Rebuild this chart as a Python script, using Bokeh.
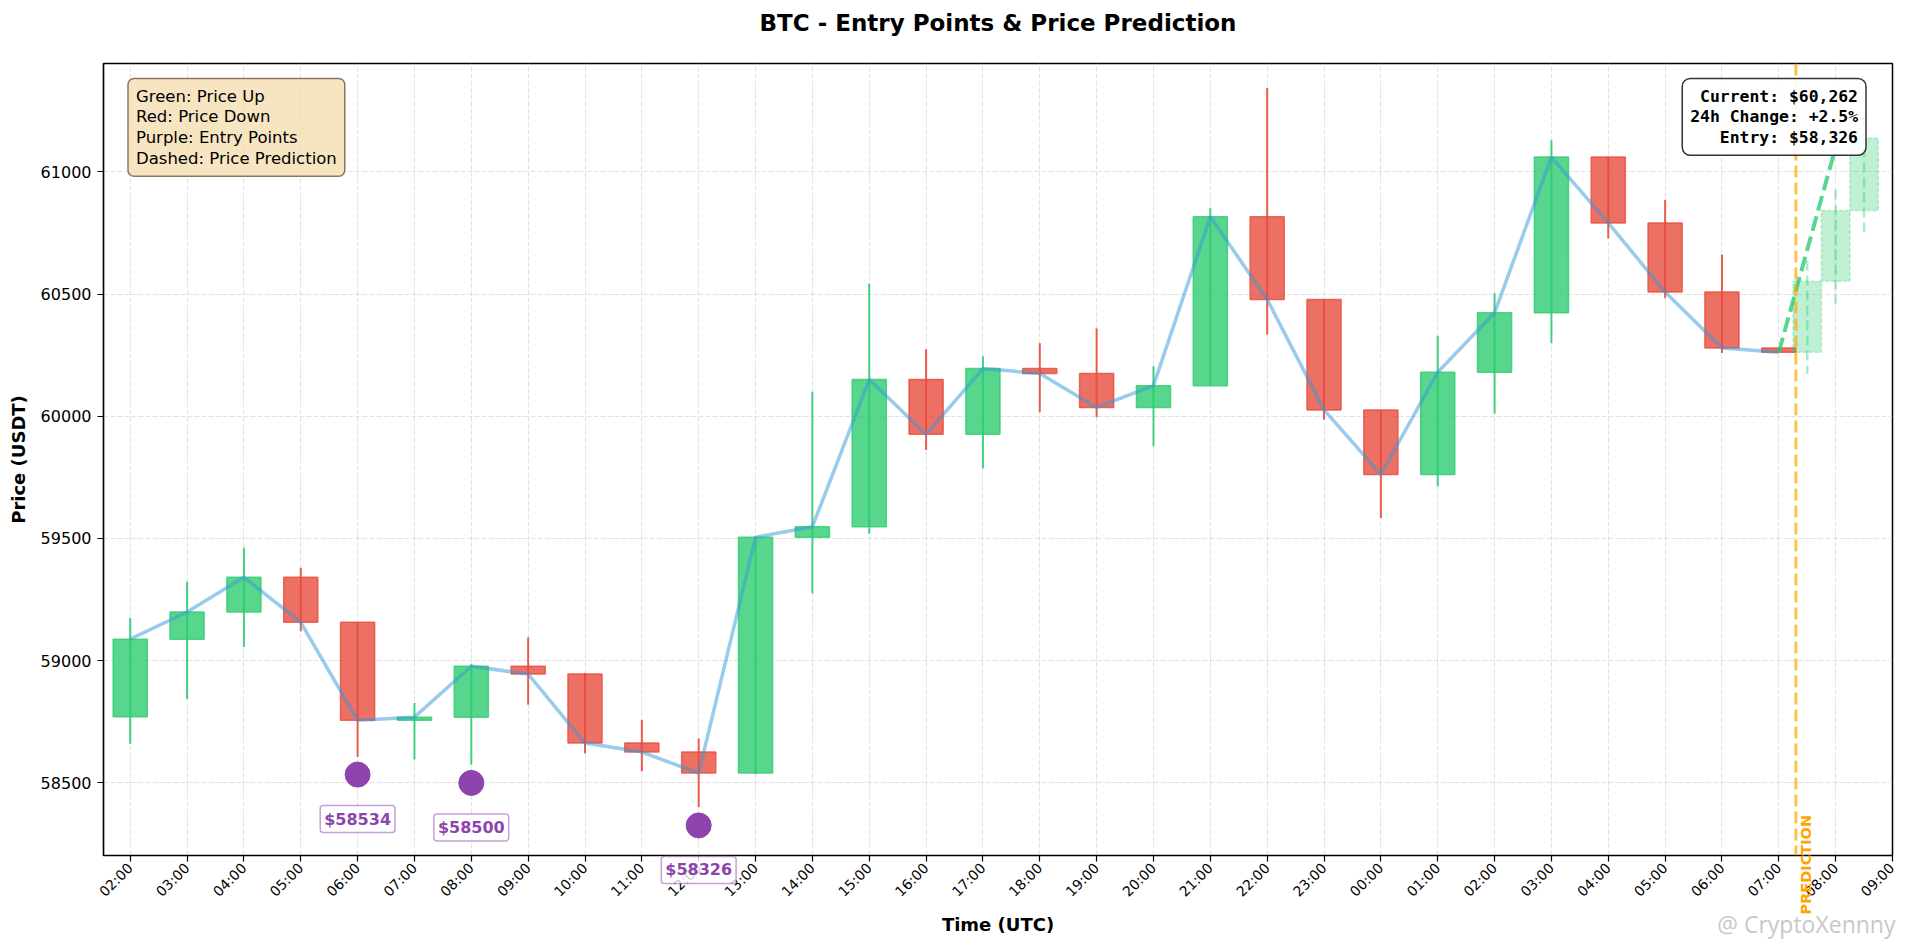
import math
from bokeh.plotting import figure
from bokeh.models import Range1d, FixedTicker, Label, Span
from bokeh.embed import file_html
from bokeh.resources import INLINE
from bokeh.core.properties import value

# ---------------- data ----------------
title_text = "BTC - Entry Points & Price Prediction"
tick_labels = ["02:00", "03:00", "04:00", "05:00", "06:00", "07:00", "08:00", "09:00",
               "10:00", "11:00", "12:00", "13:00", "14:00", "15:00", "16:00", "17:00",
               "18:00", "19:00", "20:00", "21:00", "22:00", "23:00", "00:00", "01:00",
               "02:00", "03:00", "04:00", "05:00", "06:00", "07:00", "08:00", "09:00"]

opens  = [58771, 59088, 59199, 59341, 59157, 58756, 58769, 58977, 58945, 58663,
          58626, 58540, 59505, 59548, 60150, 59926, 60195, 60175, 60036, 60125,
          60816, 60478, 60026, 59762, 60180, 60423, 61060, 60791, 60508, 60279]
closes = [59088, 59199, 59341, 59157, 58756, 58769, 58977, 58945, 58663, 58626,
          58540, 59505, 59548, 60150, 59926, 60195, 60175, 60036, 60125, 60816,
          60478, 60026, 59762, 60180, 60423, 61060, 60791, 60508, 60279, 60262]
highs  = [59175, 59323, 59462, 59380, 59157, 58827, 58986, 59095, 58950, 58758,
          58682, 59508, 60100, 60543, 60274, 60245, 60299, 60359, 60205, 60851,
          61343, 60478, 60026, 60329, 60503, 61129, 61060, 60886, 60662, 60279]
lows   = [58660, 58843, 59056, 59120, 58606, 58596, 58574, 58820, 58621, 58548,
          58400, 58535, 59275, 59519, 59862, 59787, 60016, 59996, 59877, 60125,
          60334, 59986, 59584, 59713, 60011, 60299, 60727, 60483, 60259, 60262]

pred_x     = [29.5, 30.0, 30.5]
pred_open  = [60262, 60552, 60842]
pred_close = [60552, 60842, 61137]
pred_high  = [60637, 60927, 61222]
pred_low   = [60173, 60459, 60753]
pred_line_x = [29, 30]
pred_line_y = [60262, 61100]

entry_x     = [4, 6, 10]
entry_price = [58534, 58500, 58326]

y_ticks = [58500, 59000, 59500, 60000, 60500, 61000]
x_start, x_end = -0.47, 31
y_start, y_end = 58203, 61443
prediction_start = 29.3
current_price = 60262
change_24h = 2.5

# ---------------- styling ----------------
GREEN = "#2ecc71"
RED = "#e74c3c"
BLUE = "#3498db"
PURPLE = "#8e44ad"
FONT = "DejaVu Sans"
MONO = "DejaVu Sans Mono"

W, H = 1897, 939
BL, BR, BT, BB = 103, 5, 63, 84
FRAME_W = W - BL - BR
FRAME_H = H - BT - BB

x_idx = list(range(len(opens)))
colors = [GREEN if c >= o else RED for o, c in zip(opens, closes)]
tops = [max(o, c) for o, c in zip(opens, closes)]
bots = [min(o, c) for o, c in zip(opens, closes)]

p = figure(width=W, height=H,
           x_range=Range1d(x_start, x_end), y_range=Range1d(y_start, y_end),
           output_backend="svg", toolbar_location=None,
           min_border_left=BL, min_border_right=BR,
           min_border_top=BT, min_border_bottom=BB)

p.outline_line_color = "black"
p.outline_line_width = 1.5
p.background_fill_color = "white"
p.border_fill_color = "white"

# axes
p.xaxis.ticker = FixedTicker(ticks=list(range(len(tick_labels))))
p.xaxis.major_label_overrides = {i: t for i, t in enumerate(tick_labels)}
p.xaxis.major_label_orientation = math.pi / 4
p.yaxis.ticker = FixedTicker(ticks=y_ticks)
p.yaxis.major_label_overrides = {v: str(v) for v in y_ticks}
for ax in (p.xaxis, p.yaxis):
    ax.axis_line_color = "black"
    ax.axis_line_width = 1.2
    ax.major_tick_line_color = "black"
    ax.major_tick_line_width = 1.2
    ax.major_tick_out = 6
    ax.major_tick_in = 0
    ax.minor_tick_line_color = None
    ax.major_label_text_font = FONT
    ax.major_label_text_color = "black"
    ax.axis_label_text_font = FONT
    ax.axis_label_text_font_size = "18px"
    ax.axis_label_text_font_style = "bold"
    ax.axis_label_text_color = "black"
p.xaxis.major_label_standoff = 4
p.yaxis.major_label_standoff = 6
p.xaxis.major_label_text_font_size = "14px"
p.yaxis.major_label_text_font_size = "16px"
p.xaxis.axis_label = "Time (UTC)"
p.yaxis.axis_label = "Price (USDT)"
p.xaxis.axis_label_standoff = 6
p.yaxis.axis_label_standoff = 9

p.grid.grid_line_color = "#cfcfcf"
p.grid.grid_line_alpha = 0.6
p.grid.grid_line_dash = "5 2"
p.grid.grid_line_width = 1

# candles
p.vbar(x=x_idx, width=0.6, top=tops, bottom=bots,
       fill_color=colors, fill_alpha=0.8, line_color=colors, line_alpha=0.8, line_width=1.5)
p.segment(x0=x_idx, y0=highs, x1=x_idx, y1=lows, line_color=colors, line_width=2, line_alpha=0.9)

# close line
p.line(x_idx, closes, line_color=BLUE, line_alpha=0.5, line_width=3.5)

# predicted candles
p.vbar(x=pred_x, width=0.5, top=pred_close, bottom=pred_open,
       fill_color=GREEN, fill_alpha=0.3, line_color=GREEN, line_alpha=0.3,
       line_width=1.5, line_dash="4 2")
p.segment(x0=pred_x, y0=pred_high, x1=pred_x, y1=pred_low, line_color=GREEN,
          line_alpha=0.4, line_width=2.5, line_dash="10 5")
p.line(pred_line_x, pred_line_y, line_color=GREEN, line_alpha=0.8, line_width=4, line_dash="15 6")

# entry points
p.scatter(entry_x, entry_price, size=25, color=PURPLE, alpha=1.0)

# prediction start line
p.add_layout(Span(location=prediction_start, dimension="height", line_color="orange",
                  line_alpha=0.7, line_width=3, line_dash="12 5"))

# title (text glyph on overlay level so it may sit above the frame)
r = p.text(x=[(x_start + x_end) / 2], y=[y_end], text=[title_text], y_offset=-41,
           text_align="center", text_baseline="middle", text_font=value(FONT),
           text_font_size="23px", text_font_style="bold", text_color="black")
r.level = "overlay"

# texts that extend beyond the frame
r = p.text(x=[prediction_start], y=[y_start], text=["PREDICTION"], x_offset=10, y_offset=59,
           angle=math.pi / 2, text_color="orange", text_font=value(FONT),
           text_font_size="14.5px", text_font_style="bold",
           text_align="left", text_baseline="middle")
r.level = "overlay"

r = p.text(x=entry_x, y=entry_price, text=[f"${v}" for v in entry_price], y_offset=44.5,
           text_align="center", text_baseline="middle",
           text_color=PURPLE, text_font=value(FONT), text_font_size="16px",
           text_font_style="bold",
           background_fill_color="white", background_fill_alpha=0.8,
           border_line_color=PURPLE, border_line_alpha=0.5, border_line_width=1.5,
           padding=4, border_radius=3)
r.level = "overlay"

r = p.text(x=[x_end], y=[y_start], text=["@ CryptoXennny"], x_offset=3, y_offset=68,
           text_align="right", text_baseline="middle", text_font=value("Open Sans"),
           text_font_size="23px", text_color="#c8c8c8")
r.level = "overlay"

p.add_layout(Label(x=24.5, y=FRAME_H - 15, x_units="screen", y_units="screen",
                   text="Green: Price Up\nRed: Price Down\nPurple: Entry Points\nDashed: Price Prediction",
                   text_align="left", text_baseline="top", text_font=FONT,
                   text_font_size="16.5px", text_color="black", text_line_height=1.1,
                   background_fill_color="#f5deb3", background_fill_alpha=0.8,
                   border_line_color="#8b7760", border_line_width=1.5,
                   padding=8, border_radius=6))

info_text = (f"Current: ${current_price:,}\n24h Change: +{change_24h}%\n"
             f"Entry: ${min(entry_price):,}")
p.add_layout(Label(x=FRAME_W - 26.5, y=FRAME_H - 15, x_units="screen", y_units="screen",
                   text=info_text, text_align="right", text_baseline="top",
                   text_font=MONO, text_font_size="16.4px", text_font_style="bold",
                   text_color="black", text_line_height=1.1,
                   background_fill_color="white", background_fill_alpha=0.9,
                   border_line_color="#333333", border_line_width=1.5,
                   padding=8, border_radius=8))

open("out.html", "w").write(file_html(p, INLINE))
